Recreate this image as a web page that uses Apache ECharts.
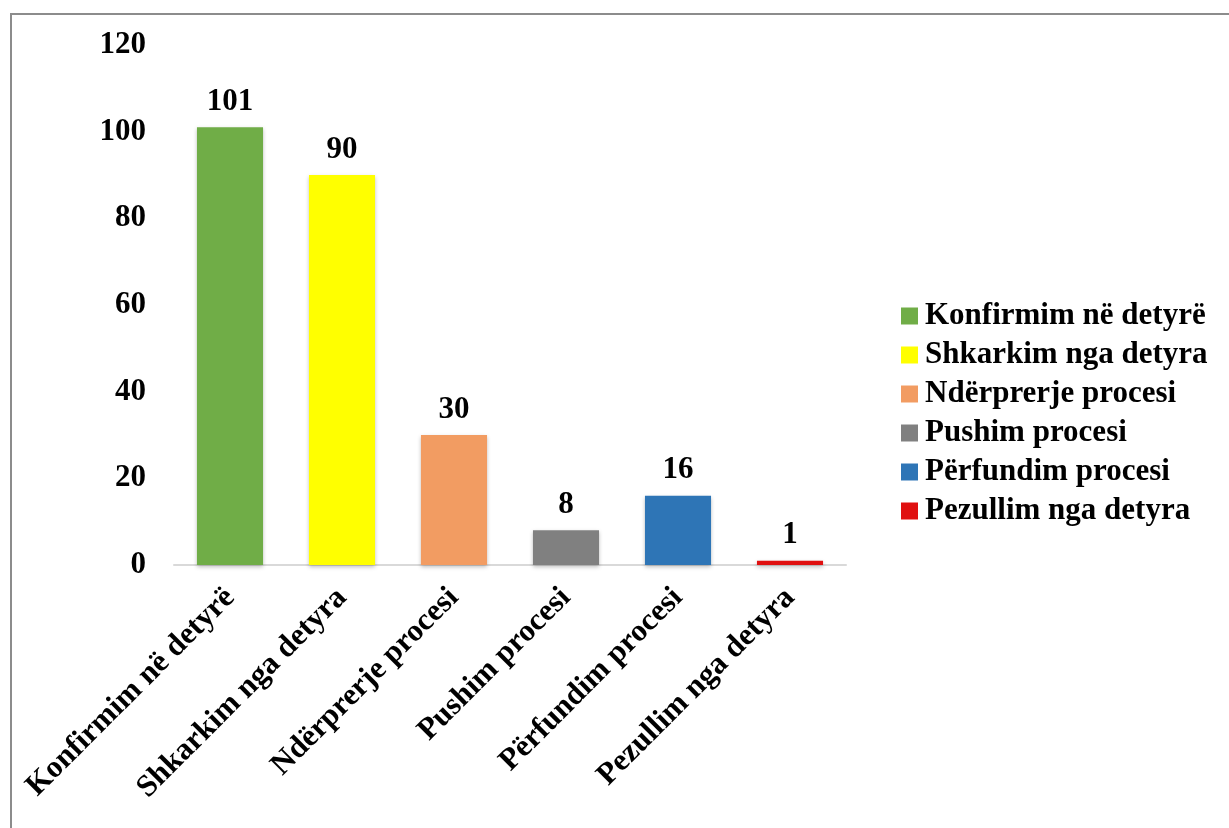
<!DOCTYPE html>
<html>
<head>
<meta charset="utf-8">
<script src="https://cdn.jsdelivr.net/npm/echarts@6/dist/echarts.min.js"></script>
<style>
  body { margin: 0; background: #fff; }
  #frame { position: absolute; left: 10px; top: 13px; width: 1300px; height: 900px;
           border-left: 2px solid #8c8c8c; border-top: 2px solid #8c8c8c; }
  #chart { position: absolute; left: 0; top: 0; width: 1229px; height: 828px; }
</style>
</head>
<body>
<div id="frame"></div>
<div id="chart"></div>
<script>
// kategoritë dhe vlerat
var categories = ['Konfirmim në detyrë', 'Shkarkim nga detyra', 'Ndërprerje procesi',
                  'Pushim procesi', 'Përfundim procesi', 'Pezullim nga detyra'];
var values = [101, 90, 30, 8, 16, 1];
var colors = ['#70ad47', '#ffff00', '#f29c62', '#808080', '#2e75b6', '#e01010'];
var yTicks = [0, 20, 40, 60, 80, 100, 120];

var font = "'Liberation Serif', 'Times New Roman', serif";

var chart = echarts.init(document.getElementById('chart'));

var series = categories.map(function (name, i) {
  return {
    name: name,
    type: 'bar',
    stack: 'all',
    barWidth: '59%',
    data: values.map(function (v, j) { return j === i ? v : '-'; }),
    itemStyle: {
      color: colors[i],
      shadowColor: 'rgba(0,0,0,0.25)',
      shadowBlur: 4,
      shadowOffsetY: 2
    },
    label: {
      show: true,
      position: 'top',
      distance: 10,
      color: '#000',
      fontFamily: font,
      fontWeight: 'bold',
      fontSize: 31
    }
  };
});

chart.setOption({
  animation: false,
  textStyle: { fontFamily: font },
  grid: { left: 174, right: 383, top: 45, bottom: 263 },
  legend: {
    orient: 'vertical',
    left: 896,
    top: 295,
    itemWidth: 17,
    itemHeight: 17,
    itemGap: 7,
    icon: 'rect',
    textStyle: { fontFamily: font, fontWeight: 'bold', fontSize: 31, lineHeight: 32, color: '#000', padding: [0, 0, 0, 2] },
    data: categories
  },
  xAxis: {
    type: 'category',
    data: categories,
    axisLine: { lineStyle: { color: '#d9d9d9', width: 2 } },
    axisTick: { show: false },
    axisLabel: {
      rotate: 45,
      interval: 0,
      margin: 28,
      color: '#000',
      fontFamily: font,
      fontWeight: 'bold',
      fontSize: 31
    }
  },
  yAxis: {
    type: 'value',
    min: yTicks[0],
    max: yTicks[yTicks.length - 1],
    interval: 20,
    splitLine: { show: false },
    axisLine: { show: false },
    axisLabel: {
      margin: 28,
      color: '#000',
      fontFamily: font,
      fontWeight: 'bold',
      fontSize: 31
    }
  },
  series: series
});
</script>
</body>
</html>
